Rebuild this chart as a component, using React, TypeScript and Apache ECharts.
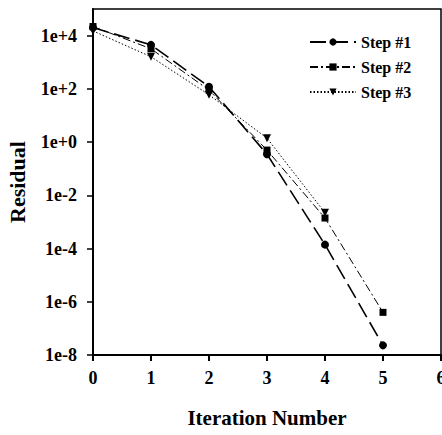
import React, { useEffect, useRef } from "react";
import * as echarts from "echarts";

const iterations = [0, 1, 2, 3, 4, 5];
const step1 = [2e4, 4.5e3, 120, 0.35, 1.4e-4, 2.3e-8];
const step2 = [2.2e4, 3.2e3, 90, 0.5, 1.4e-3, 4e-7];
const step3 = [1.5e4, 1.6e3, 60, 1.4, 2.2e-3];
const seriesNames = ["Step #1", "Step #2", "Step #3"];

const FONT = "Liberation Serif";

function pairs(vals: number[]) {
  return vals.map((v, i) => [iterations[i], v]);
}

export default function App() {
  const ref = useRef<HTMLDivElement>(null);
  useEffect(() => {
    if (!ref.current) return;
    const chart = echarts.init(ref.current, undefined, { renderer: "svg" });
    chart.setOption({
      animation: false,
      backgroundColor: "#fff",
      textStyle: { fontFamily: FONT, fontWeight: "bold", color: "#000" },
      grid: {
        left: 93,
        top: 9,
        right: 1,
        bottom: 80,
        containLabel: false,
        outerBoundsMode: "none",
        show: true,
        borderColor: "#000",
        borderWidth: 1.5,
      },
      legend: {
        orient: "vertical",
        left: 304,
        top: 29,
        itemWidth: 46,
        itemHeight: 9,
        itemGap: 9,
        textStyle: { fontFamily: FONT, fontSize: 16, fontWeight: "bold", color: "#000" },
        data: seriesNames,
      },
      xAxis: {
        type: "value",
        min: 0,
        max: 6,
        interval: 1,
        name: "Iteration Number",
        nameLocation: "middle",
        nameGap: 52,
        nameTextStyle: { fontFamily: FONT, fontSize: 21, fontWeight: "bold", color: "#000" },
        axisLine: { lineStyle: { color: "#000", width: 2 } },
        axisTick: { show: true, inside: false, length: 6, lineStyle: { color: "#000", width: 2 } },
        axisLabel: { margin: 14, fontFamily: FONT, fontSize: 18, fontWeight: "bold", color: "#000" },
        splitLine: { show: false },
      },
      yAxis: {
        type: "log",
        logBase: 10,
        min: 1e-8,
        max: 1e5,
        interval: 2,
        name: "Residual",
        nameLocation: "middle",
        nameGap: 65,
        nameTextStyle: { fontFamily: FONT, fontSize: 22, fontWeight: "bold", color: "#000" },
        axisLine: { show: true, lineStyle: { color: "#000", width: 2 } },
        axisTick: { show: true, inside: false, length: 6, lineStyle: { color: "#000", width: 1.5 } },
        axisLabel: {
          margin: 16,
          showMaxLabel: false,
          fontFamily: FONT,
          fontSize: 18,
          fontWeight: "bold",
          color: "#000",
          formatter: (v: number) => {
            const e = Math.round(Math.log10(v));
            if (e > 4) return "";
            return "1e" + (e >= 0 ? "+" : "-") + Math.abs(e);
          },
        },
        splitLine: { show: false },
      },
      series: [
        {
          name: seriesNames[0],
          type: "line",
          data: pairs(step1),
          symbol: "circle",
          symbolSize: 8,
          itemStyle: { color: "#000" },
          lineStyle: { color: "#000", width: 1.6, type: [16, 6] },
        },
        {
          name: seriesNames[1],
          type: "line",
          data: pairs(step2),
          symbol: "rect",
          symbolSize: 7,
          itemStyle: { color: "#000" },
          lineStyle: { color: "#000", width: 1, type: [8, 3, 2, 3] },
        },
        {
          name: seriesNames[2],
          type: "line",
          data: pairs(step3),
          symbol: "triangle",
          symbolRotate: 180,
          symbolSize: 8,
          itemStyle: { color: "#000" },
          lineStyle: { color: "#000", width: 1, type: [1.5, 2] },
        },
      ],
    });
    return () => chart.dispose();
  }, []);
  return <div ref={ref} style={{ width: 442, height: 435, position: "absolute", left: 0, top: 0 }} />;
}
